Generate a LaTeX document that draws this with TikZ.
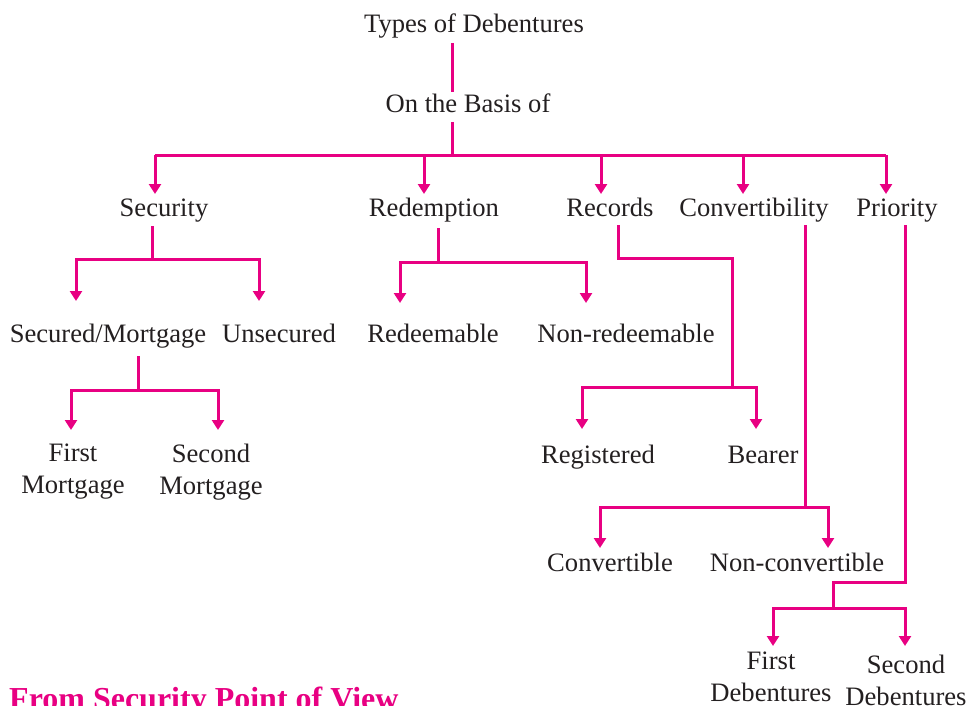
\documentclass[tikz,border=0pt]{standalone}
\usepackage{fontspec}
\setmainfont{Liberation Serif}
\usetikzlibrary{arrows.meta}
\definecolor{mag}{RGB}{232,0,130}
\definecolor{ink}{RGB}{35,31,32}
\begin{document}
\begin{tikzpicture}[x=1pt,y=-1pt,
  lbl/.style={font=\fontsize{26.6}{32}\selectfont, text=ink, inner sep=0pt, anchor=base},
  two/.style={font=\fontsize{26.6}{32}\selectfont, text=ink, inner sep=0pt, align=center, anchor=center},
  con/.style={draw=mag, line width=3pt},
  arr/.style={con, -{Triangle[length=10pt,width=12pt]}}]
\useasboundingbox (0,0) rectangle (971,706);
% nodes
\node[lbl] (types) at (474,33) {Types of Debentures};
\node[lbl] (basis) at (468,113) {On the Basis of};
\node[lbl] (sec) at (164,216) {Security};
\node[lbl] (red) at (434,216) {Redemption};
\node[lbl] (rec) at (610,216) {Records};
\node[lbl] (conv) at (754,216) {Convertibility};
\node[lbl] (pri) at (897,216) {Priority};
\node[lbl] (secm) at (108,342) {Secured/Mortgage};
\node[lbl] (unsec) at (279,342) {Unsecured};
\node[lbl] (redm) at (433,342) {Redeemable};
\node[lbl] (nonred) at (626,342) {Non-redeemable};
\node[lbl] (regd) at (598,463) {Registered};
\node[lbl] (bear) at (763,463) {Bearer};
\node[two] (fm) at (73,472) {First\\Mortgage};
\node[two] (sm) at (211,472) {Second\\Mortgage};
\node[lbl] (cvt) at (610,571) {Convertible};
\node[lbl] (ncvt) at (797,571) {Non-convertible};
\node[two] (fd) at (771,677) {First\\Debentures};
\node[two] (sd) at (906,680) {Second\\Debentures};
\node[font=\fontsize{32}{36}\selectfont\bfseries, text=mag, inner sep=0pt, anchor=base west] (title) at (9,709) {From Security Point of View};
% junction coordinates
\coordinate (t1) at (452,43);  \coordinate (t2) at (452,92);
\coordinate (b1) at (452,122); \coordinate (bar) at (452,155);
\coordinate (bl) at (155,155); \coordinate (br) at (886,155);
\coordinate (a1) at (155,194); \coordinate (a2) at (424,194);
\coordinate (a3) at (601,194); \coordinate (a4) at (743,194);
\coordinate (a5) at (886,194);
% top
\draw[con] (t1) -- (t2);
\draw[con] (b1) -- (bar);
\draw[con] (bl) -- (br);
\draw[arr] (bl) -- (a1);
\draw[arr] (a2 |- bar) -- (a2);
\draw[arr] (a3 |- bar) -- (a3);
\draw[arr] (a4 |- bar) -- (a4);
\draw[arr] (br) -- (a5);
% security
\coordinate (s0) at (152,226); \coordinate (s1) at (152,259);
\draw[con] (s0) -- (s1);
\draw[arr] (s1) -| (76,301);
\draw[arr] (s1) -| (259,301);
% redemption
\coordinate (r0) at (438,228); \coordinate (r1) at (438,262);
\draw[con] (r0) -- (r1);
\draw[arr] (r1) -| (400,303);
\draw[arr] (r1) -| (586,303);
% records
\coordinate (c0) at (618,225); \coordinate (c1) at (732,387);
\draw[con] (c0) |- (732,258) -- (c1);
\draw[arr] (c1) -| (582,429);
\draw[arr] (c1) -| (756,429);
% secured/mortgage
\coordinate (m0) at (138,356); \coordinate (m1) at (138,390);
\draw[con] (m0) -- (m1);
\draw[arr] (m1) -| (71,430);
\draw[arr] (m1) -| (218,430);
% convertibility
\coordinate (v0) at (805,225); \coordinate (v1) at (805,507);
\draw[con] (v0) -- (v1);
\draw[arr] (v1) -| (600,548);
\draw[arr] (v1) -| (828,548);
% priority
\coordinate (p0) at (905,225); \coordinate (p1) at (833,608);
\draw[con] (p0) |- (833,582) -- (p1);
\draw[arr] (p1) -| (773,646);
\draw[arr] (p1) -| (905,646);
\end{tikzpicture}
\end{document}
